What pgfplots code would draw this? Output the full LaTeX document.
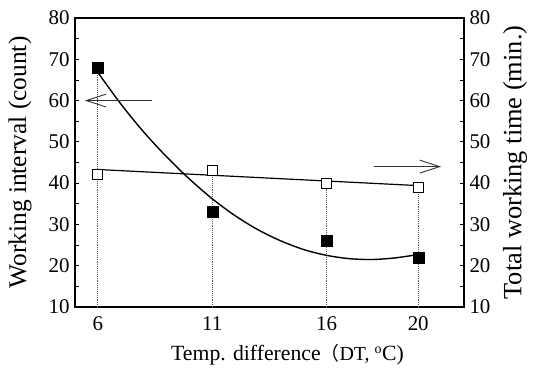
\documentclass[border=0pt]{standalone}
\usepackage{pgfplots}
\pgfplotsset{compat=1.18}
\usepackage{fontspec}
\setmainfont{Liberation Serif}
\newfontfamily\cjk{Noto Sans CJK SC}
\usetikzlibrary{arrows.meta}

\pgfplotsset{
  twin/.style={
    scale only axis, width=389bp, height=289bp,
    xmin=5, xmax=22, ymin=10, ymax=80,
    ytick={10,20,...,80}, minor y tick num=1,
    tick align=inside,
    tick label style={font=\fontsize{21}{24}\selectfont},
    /pgf/number format/assume math mode=true,
    major tick length=4.5bp, minor tick length=4.5bp,
    every tick/.style={black, line width=0.8bp},
    axis line style={line width=1.2bp},
    clip=false,
  },
  barb/.style={line width=0.9bp, -{Straight Barb[length=20bp,width=13bp,line width=0.9bp]}},
}

\begin{document}
\begin{tikzpicture}
% left axis: working interval
\begin{axis}[twin,
  ytick pos=left,
  xtick={6,11,16,20},
  xtick pos=bottom,
  xtick style={draw=none},
  xticklabel style={yshift=-6bp},
  yticklabel style={xshift=-2bp},
  xlabel={Temp. difference{\cjk\fontsize{19}{20}\selectfont （}{\fontsize{20}{22}\selectfont DT, \textsuperscript{o}}C)},
  every axis x label/.style={at={([xshift=18bp,yshift=-48bp]rel axis cs:0.5,0)}, anchor=center, font=\fontsize{21.8}{24}\selectfont},
  ylabel={Working interval (count)},
  every axis y label/.style={at={([xshift=-55bp]rel axis cs:0,0.5)}, rotate=90, anchor=center, font=\fontsize{25.5}{28}\selectfont},
]
\coordinate (sw) at (rel axis cs:0,0);
\coordinate (ne) at (rel axis cs:1,1);
% drop lines from the highest mark at each temperature
\addplot[ycomb, densely dotted, line width=0.9bp, black!65, mark=none]
  coordinates {(6,68) (11,43) (16,40) (20,39)};
% quadratic trend of the working interval
\addplot[smooth, line width=1.4bp, black, mark=none] coordinates {
  (6,66.8) (7,59.2) (8,52.4) (9,46.4) (10,41.0) (11,36.2) (12,32.1)
  (13,28.7) (14,26.0) (15,23.9) (16,22.5) (17,21.7) (18,21.5)
  (19,21.9) (20,22.7)};
\addplot[only marks, mark=square*, mark size=5.5bp, black]
  coordinates {(6,68) (11,33) (16,26) (20,22)};
% arrow pointing to the left scale
\addplot[barb, black!80, mark=none] coordinates {(8.35,60) (5.43,60)};
\end{axis}

% right axis: total working time
\begin{axis}[twin,
  axis x line=none,
  axis y line*=right,
  ytick pos=right,
  yticklabel style={xshift=2bp},
  ylabel={Total working time (min.)},
  every axis y label/.style={at={([xshift=51bp]rel axis cs:1,0.5)}, rotate=90, anchor=center, font=\fontsize{26.5}{29}\selectfont},
]
\addplot[line width=1.2bp, black, mark=none] coordinates {(6,43.3) (20,39.4)};
\addplot[only marks, mark=square*, mark size=5bp, fill=white, draw=black, mark options={line width=0.8bp}]
  coordinates {(6,42) (11,43) (16,40) (20,39)};
% arrow pointing to the right scale
\addplot[barb, black!80, mark=none] coordinates {(18.08,44) (21.0,44)};
\end{axis}

\pgfresetboundingbox
\path[use as bounding box] ([shift={(-75bp,-68bp)}]sw) rectangle ([shift={(69bp,18bp)}]ne);
\end{tikzpicture}
\end{document}
